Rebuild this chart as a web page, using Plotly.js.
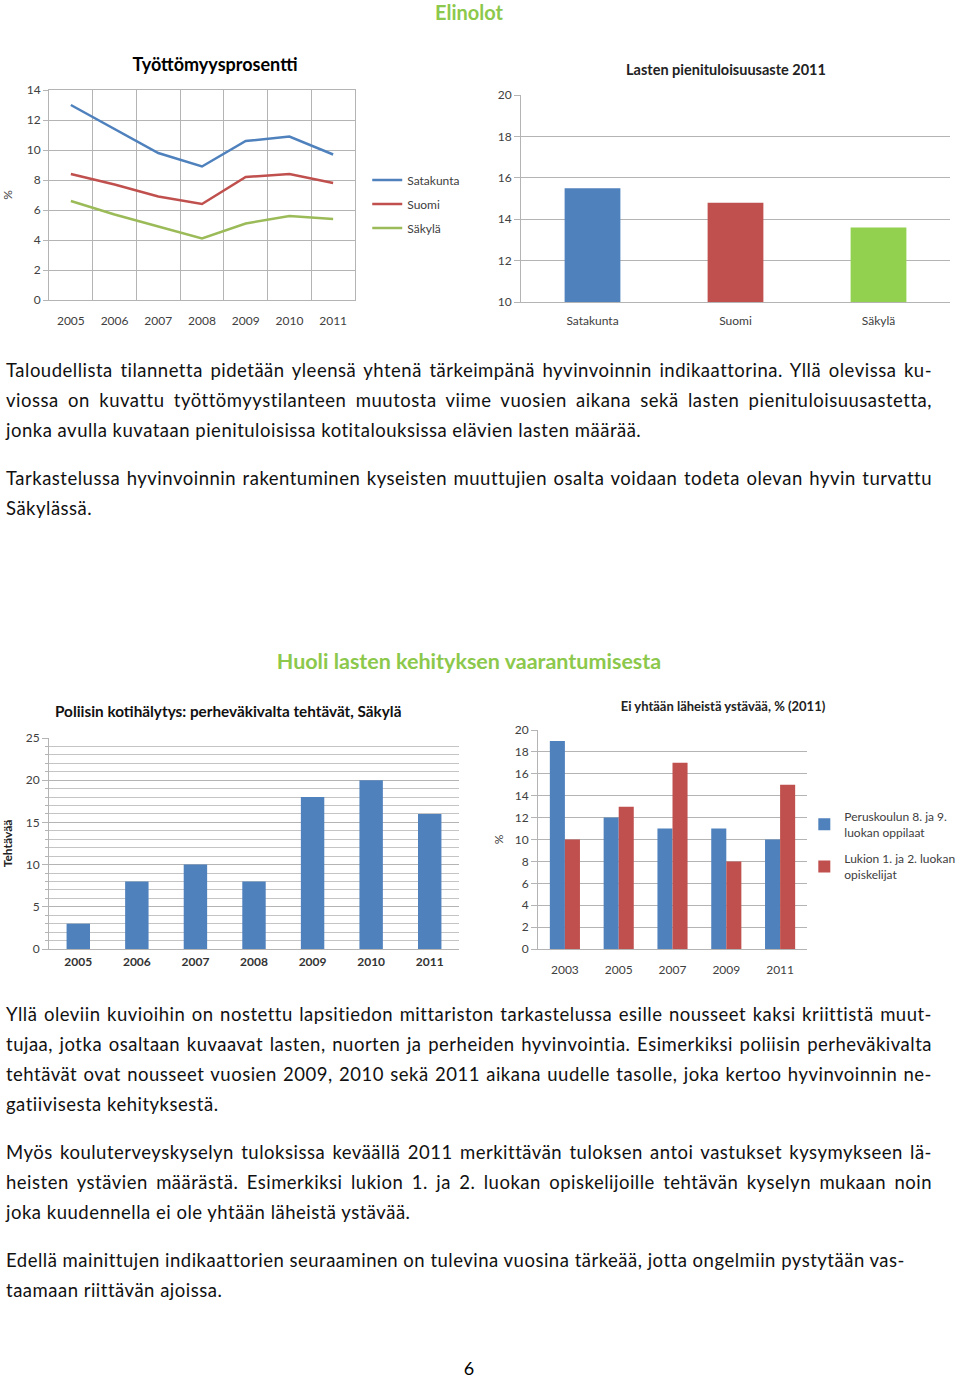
<!DOCTYPE html>
<html>
<head>
<meta charset="utf-8">
<script src="https://cdn.plot.ly/plotly-3.0.1.min.js"></script>
<style>
  body { margin: 0; background: #fff; font-family: Lato, "Open Sans", sans-serif; }
  #page { position: relative; width: 960px; height: 1380px; overflow: hidden; }
  .head { position: absolute; left: 0; width: 938px; text-align: center; color: #8cc84b;
          font-weight: bold; line-height: 24px; }
  .para { position: absolute; left: 6px; width: 926px; font-size: 18.5px; letter-spacing: 0.5px;
          line-height: 30px; color: #111; }
  .para .j { text-align: justify; text-align-last: justify; white-space: nowrap; }
  .para .l { white-space: nowrap; }
  .chart { position: absolute; }
  #pno { position: absolute; left: 0; width: 938px; top: 1359px; text-align: center; font-size: 18px; line-height: 18px; }
</style>
</head>
<body>
<div id="page">
  <div class="head" style="top:0px; font-size:20px;">Elinolot</div>
  <div id="c1" class="chart" style="left:0px; top:50px; width:470px; height:290px;"></div>
  <div id="c2" class="chart" style="left:480px; top:50px; width:480px; height:290px;"></div>

  <div class="para" style="top:355px;">
    <div class="j">Taloudellista tilannetta pidetään yleensä yhtenä tärkeimpänä hyvinvoinnin indikaattorina. Yllä olevissa ku-</div>
    <div class="j">viossa on kuvattu työttömyystilanteen muutosta viime vuosien aikana sekä lasten pienituloisuusastetta,</div>
    <div class="l">jonka avulla kuvataan pienituloisissa kotitalouksissa elävien lasten määrää.</div>
  </div>
  <div class="para" style="top:463px;">
    <div class="j">Tarkastelussa hyvinvoinnin rakentuminen kyseisten muuttujien osalta voidaan todeta olevan hyvin turvattu</div>
    <div class="l">Säkylässä.</div>
  </div>

  <div class="head" style="top:649px; font-size:21.5px;">Huoli lasten kehityksen vaarantumisesta</div>
  <div id="c3" class="chart" style="left:0px; top:690px; width:470px; height:290px;"></div>
  <div id="c4" class="chart" style="left:480px; top:690px; width:480px; height:290px;"></div>

  <div class="para" style="top:999px;">
    <div class="j">Yllä oleviin kuvioihin on nostettu lapsitiedon mittariston tarkastelussa esille nousseet kaksi kriittistä muut-</div>
    <div class="j">tujaa, jotka osaltaan kuvaavat lasten, nuorten ja perheiden hyvinvointia. Esimerkiksi poliisin perheväkivalta</div>
    <div class="j">tehtävät ovat nousseet vuosien 2009, 2010 sekä 2011 aikana uudelle tasolle, joka kertoo hyvinvoinnin ne-</div>
    <div class="l">gatiivisesta kehityksestä.</div>
  </div>
  <div class="para" style="top:1137px;">
    <div class="j">Myös kouluterveyskyselyn tuloksissa keväällä 2011 merkittävän tuloksen antoi vastukset kysymykseen lä-</div>
    <div class="j">heisten ystävien määrästä. Esimerkiksi lukion 1. ja 2. luokan opiskelijoille tehtävän kyselyn mukaan noin</div>
    <div class="l">joka kuudennella ei ole yhtään läheistä ystävää.</div>
  </div>
  <div class="para" style="top:1245px;">
    <div class="l">Edellä mainittujen indikaattorien seuraaminen on tulevina vuosina tärkeää, jotta ongelmiin pystytään vas-</div>
    <div class="l">taamaan riittävän ajoissa.</div>
  </div>
  <div id="pno">6</div>
</div>

<script>
var fontFam = "Lato, 'Open Sans', sans-serif";
var gridc = "#b4b4b4";
var tickc = "#404040";

// Työttömyysprosentti
var years1 = ["2005", "2006", "2007", "2008", "2009", "2010", "2011"];
var satakunta = [13.0, 11.4, 9.8, 8.9, 10.6, 10.9, 9.7];
var suomi = [8.4, 7.7, 6.9, 6.4, 8.2, 8.4, 7.8];
var sakyla = [6.6, 5.7, 4.9, 4.1, 5.1, 5.6, 5.4];

// Lasten pienituloisuusaste 2011
var regions = ["Satakunta", "Suomi", "Säkylä"];
var lowIncome = [15.5, 14.8, 13.6];

// Poliisin kotihälytys
var years3 = ["2005", "2006", "2007", "2008", "2009", "2010", "2011"];
var tasks = [3, 8, 10, 8, 18, 20, 16];

// Ei yhtään läheistä ystävää
var years4 = ["2003", "2005", "2007", "2009", "2011"];
var peruskoulu = [19, 12, 11, 11, 10];
var lukio = [10, 13, 17, 8, 15];

var conf = {displayModeBar: false, staticPlot: true};

function lineTrace(y, name, color, grp) {
	return {
		type: "scatter",
		mode: "lines",
		x: years1,
		y: y,
		name: name,
		legendgroup: grp,
		line: {color: color, width: 2.5}
	};
}

Plotly.newPlot("c1", [
	lineTrace(satakunta, "Satakunta", "#4f81bd", "a"),
	lineTrace(suomi, "Suomi", "#c0504d", "b"),
	lineTrace(sakyla, "Säkylä", "#9bbb59", "c")
], {
	width: 470,
	height: 290,
	margin: {l: 49, r: 115, t: 40, b: 40, autoexpand: false},
	paper_bgcolor: "#fff",
	plot_bgcolor: "#fff",
	font: {family: fontFam, size: 12, color: tickc},
	title: {text: "<b>Työttömyysprosentti</b>", x: 215 / 470, xanchor: "center", y: 1 - 15 / 290, yanchor: "middle",
		font: {family: fontFam, size: 18, color: "#000"}},
	showlegend: true,
	legend: {x: 1.04, xanchor: "left", y: 0.64, yanchor: "top", tracegroupgap: 5,
		font: {size: 12, color: tickc}, bgcolor: "rgba(0,0,0,0)"},
	xaxis: {
		type: "category",
		range: [-0.5, 6.5],
		tickson: "boundaries",
		showgrid: true,
		gridcolor: gridc,
		showline: true,
		linecolor: gridc,
		mirror: true,
		ticks: "",
		ticklabelstandoff: 10,
		tickfont: {size: 12, color: tickc}
	},
	yaxis: {
		range: [0, 14],
		dtick: 2,
		showgrid: true,
		gridcolor: gridc,
		zeroline: false,
		showline: true,
		linecolor: gridc,
		mirror: true,
		ticks: "outside",
		ticklen: 5,
		tickcolor: gridc,
		tickfont: {size: 12, color: tickc},
		title: {text: "%", standoff: 16, font: {size: 12, color: tickc}}
	}
}, conf);

Plotly.newPlot("c2", [{
	type: "bar",
	x: regions,
	y: lowIncome,
	marker: {color: ["#4f81bd", "#c0504d", "#92d050"]},
	showlegend: false
}], {
	width: 480,
	height: 290,
	margin: {l: 41, r: 10, t: 45, b: 38, autoexpand: false},
	paper_bgcolor: "#fff",
	plot_bgcolor: "#fff",
	bargap: 0.61,
	font: {family: fontFam, size: 12, color: tickc},
	title: {text: "<b>Lasten pienituloisuusaste 2011</b>", x: 246 / 480, xanchor: "center", y: 1 - 20 / 290, yanchor: "middle",
		font: {family: fontFam, size: 14.5, color: "#222"}},
	xaxis: {
		type: "category",
		showgrid: false,
		showline: true,
		linecolor: gridc,
		ticks: "outside",
		ticklen: 8,
		tickcolor: "rgba(0,0,0,0)",
		tickfont: {size: 12, color: tickc}
	},
	yaxis: {
		range: [10, 20],
		dtick: 2,
		showgrid: true,
		gridcolor: gridc,
		zeroline: false,
		showline: true,
		linecolor: gridc,
		ticks: "outside",
		ticklen: 6,
		tickcolor: gridc,
		tickfont: {size: 12, color: tickc}
	}
}, conf);

Plotly.newPlot("c3", [{
	type: "bar",
	x: years3,
	y: tasks,
	marker: {color: "#4f81bd"},
	showlegend: false
}], {
	width: 470,
	height: 290,
	margin: {l: 49, r: 11, t: 48, b: 31, autoexpand: false},
	paper_bgcolor: "#fff",
	plot_bgcolor: "#fff",
	bargap: 0.6,
	font: {family: fontFam, size: 12, color: tickc},
	title: {text: "<b>Poliisin kotihälytys: perheväkivalta tehtävät, Säkylä</b>", x: 55 / 470, xanchor: "left", y: 1 - 22 / 290, yanchor: "middle",
		font: {family: fontFam, size: 15.3, color: "#111"}},
	xaxis: {
		type: "category",
		showgrid: false,
		showline: true,
		linecolor: gridc,
		ticks: "",
		ticklabelstandoff: 2,
		tickfont: {size: 12, color: "#333", weight: "bold"}
	},
	yaxis: {
		range: [0, 25],
		dtick: 5,
		showgrid: true,
		gridcolor: gridc,
		zeroline: false,
		showline: true,
		linecolor: gridc,
		ticks: "outside",
		ticklen: 6,
		tickcolor: gridc,
		tickfont: {size: 12, color: tickc},
		minor: {dtick: 1, showgrid: true, gridcolor: "#c4c4c4", ticks: "outside", ticklen: 3, tickcolor: gridc},
		title: {text: "<b>Tehtävää</b>", standoff: 12, font: {size: 12, color: "#222"}}
	}
}, conf);

Plotly.newPlot("c4", [{
	type: "bar",
	x: years4,
	y: peruskoulu,
	name: "Peruskoulun 8. ja 9.<br>luokan oppilaat",
	legendgroup: "a",
	marker: {color: "#4f81bd"}
}, {
	type: "bar",
	x: years4,
	y: lukio,
	name: "Lukion 1. ja 2. luokan<br>opiskelijat",
	legendgroup: "b",
	marker: {color: "#c0504d"}
}], {
	width: 480,
	height: 290,
	margin: {l: 58, r: 153, t: 40, b: 31, autoexpand: false},
	paper_bgcolor: "#fff",
	plot_bgcolor: "#fff",
	barmode: "group",
	bargap: 0.44,
	bargroupgap: 0,
	font: {family: fontFam, size: 12, color: tickc},
	title: {text: "<b>Ei yhtään läheistä ystävää, % (2011)</b>", x: 243 / 480, xanchor: "center", y: 1 - 16 / 290, yanchor: "middle",
		font: {family: fontFam, size: 13, color: "#222"}},
	showlegend: true,
	legend: {x: 0.99, xanchor: "left", y: 0.67, yanchor: "top", tracegroupgap: 8,
		itemwidth: 30,
		font: {size: 12, color: tickc}, bgcolor: "rgba(0,0,0,0)"},
	xaxis: {
		type: "category",
		showgrid: false,
		showline: true,
		linecolor: gridc,
		ticks: "",
		ticklabelstandoff: 10,
		tickfont: {size: 12, color: tickc}
	},
	yaxis: {
		range: [0, 20],
		dtick: 2,
		showgrid: true,
		gridcolor: gridc,
		zeroline: false,
		showline: true,
		linecolor: gridc,
		ticks: "outside",
		ticklen: 6,
		tickcolor: gridc,
		tickfont: {size: 12, color: tickc},
		title: {text: "%", standoff: 8, font: {size: 12, color: tickc}}
	}
}, conf);
</script>
</body>
</html>
